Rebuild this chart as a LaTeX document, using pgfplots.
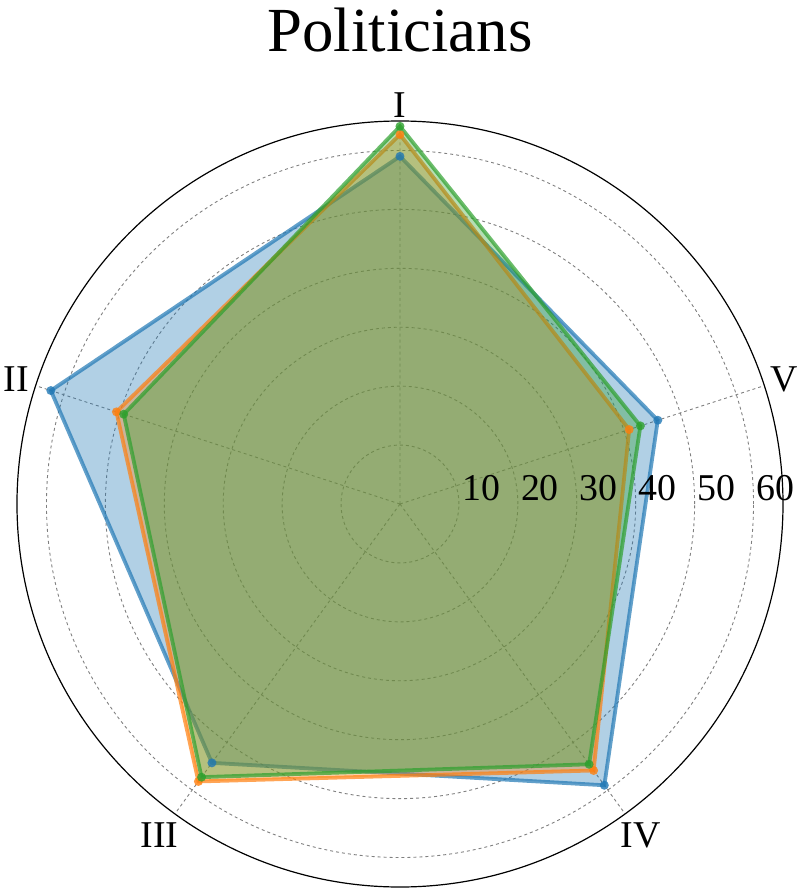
\documentclass[border=0pt]{standalone}
\usepackage{fontspec}
\setmainfont{Liberation Serif}
\usepackage{pgfplots}
\pgfplotsset{compat=1.18}
\usepgfplotslibrary{polar}
\definecolor{cA}{HTML}{1F77B4}
\definecolor{cB}{HTML}{FF7F0E}
\definecolor{cC}{HTML}{2CA02C}
\begin{document}
\begin{tikzpicture}
\useasboundingbox (-400bp,-388bp) rectangle (399bp,504bp);
\begin{polaraxis}[
  at={(0,0)}, anchor=center,
  width=766bp, height=766bp, scale only axis,
  ymin=0, ymax=65,
  xtick={90,162,234,306,18},
  xticklabels={I,II,III,IV,V},
  ytick={10,20,30,40,50,60},
  yticklabels=\empty,
  grid=major,
  grid style={dashed, color=black!50, line width=0.9bp},
  major tick length=0pt,
  separate axis lines,
  x axis line style={black, line width=1.2bp},
  y axis line style={draw=none},
  xticklabel style={font=\fontsize{38}{40}\selectfont},
  clip=false,
]
\addplot[cA, line width=3.8bp, draw opacity=0.7, fill=cA, fill opacity=0.35,
  mark=*, mark size=4.5bp, mark options={draw opacity=0, fill opacity=0.8}]
  coordinates {(90,59) (162,62.3) (234,54.3) (306,59) (18,46)} -- cycle;
\addplot[cB, line width=3.8bp, draw opacity=0.7, fill=cB, fill opacity=0.35,
  mark=*, mark size=4.5bp, mark options={draw opacity=0, fill opacity=0.8}]
  coordinates {(90,62.7) (162,50.6) (234,58.2) (306,55.9) (18,40.9)} -- cycle;
\addplot[cC, line width=3.8bp, draw opacity=0.7, fill=cC, fill opacity=0.35,
  mark=*, mark size=4.5bp, mark options={draw opacity=0, fill opacity=0.8}]
  coordinates {(90,64.1) (162,49.3) (234,57.3) (306,54.6) (18,42.9)} -- cycle;
\foreach \r in {10,20,30,40,50,60} {
  \edef\tmp{\noexpand\node[anchor=base west, inner sep=0pt, xshift=3bp, yshift=4bp, font=\noexpand\fontsize{38}{40}\noexpand\selectfont] at (axis cs:0,\r) {\r};}
  \tmp
}
\end{polaraxis}
\node[anchor=base, inner sep=0pt, font=\fontsize{63}{70}\selectfont] at (0,452bp) {Politicians};
\end{tikzpicture}
\end{document}
